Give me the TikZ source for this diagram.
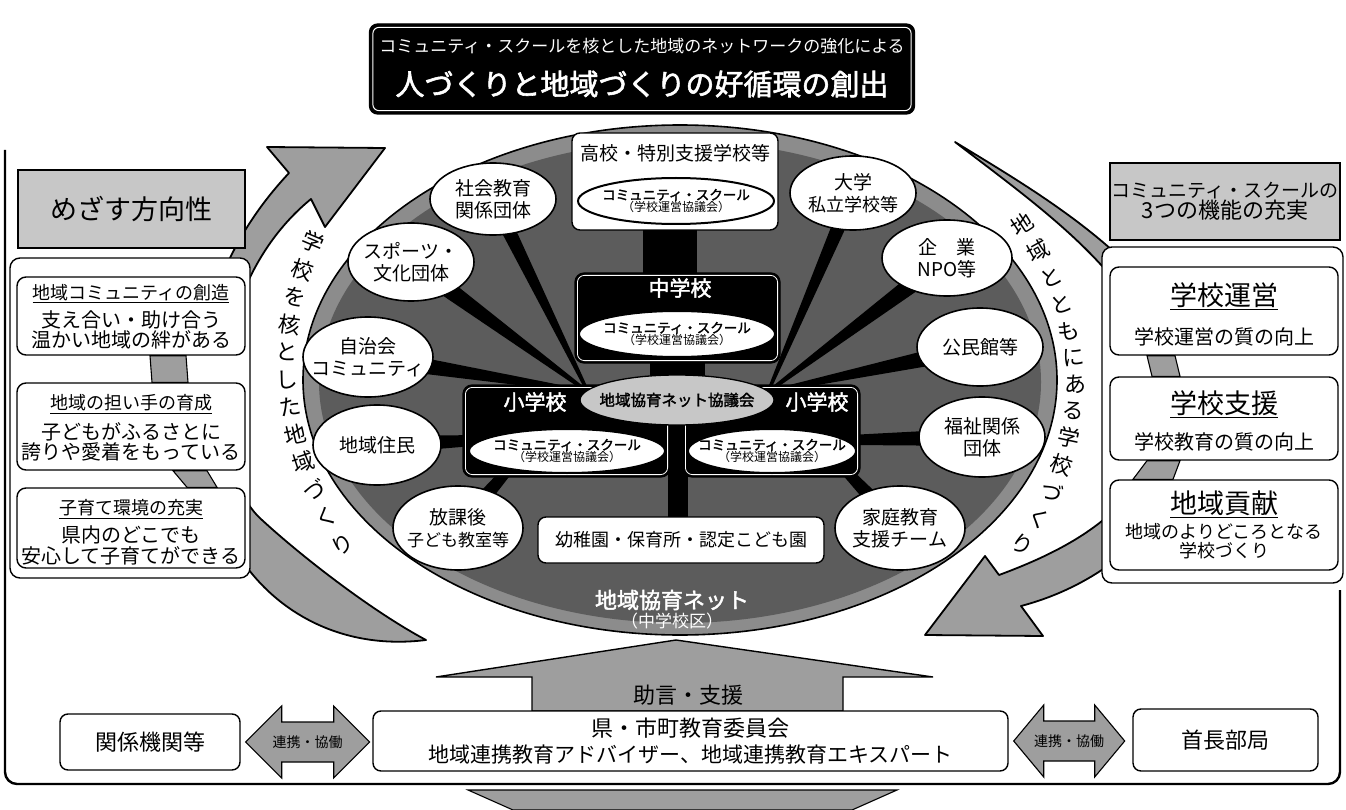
\documentclass[tikz,border=0pt]{standalone}
\usepackage{fontspec}
\setmainfont{Noto Sans CJK JP}[AutoFakeBold=2]
\usetikzlibrary{shapes.geometric,calc}
\definecolor{stipA}{gray}{0.78}
\definecolor{stipB}{gray}{0.62}
\definecolor{ringC}{gray}{0.55}
\definecolor{coreC}{gray}{0.36}
\newcommand\fsz[2]{\fontsize{#1}{#2}\selectfont}
\newcommand\mkray[4]{\fill[black] ($(#1)!#3!90:(#2)$) -- ($(#2)!#4!-90:(#1)$) -- ($(#2)!#4!90:(#1)$) -- ($(#1)!#3!-90:(#2)$) -- cycle;}
\begin{document}
\begin{tikzpicture}[x=1pt,y=-1pt,
  sat/.style={ellipse, draw=black, line width=1.6pt, fill=white, inner sep=0pt},
  txt/.style={inner sep=0pt, align=center},
  sattxt/.style={inner sep=0pt, align=center, font=\fsz{19}{22}},
  csell/.style={ellipse, draw=black, line width=2pt, fill=white, inner sep=0pt},
  pbox/.style={rectangle, draw=black, line width=1.4pt, rounded corners=10pt, fill=white, inner sep=0pt},
  hdr/.style={rectangle, draw=black, line width=1.4pt, fill=stipA, inner sep=0pt, align=center},
  blk/.style={rectangle, draw=black, line width=1.2pt, rounded corners=9pt, fill=black, inner sep=0pt},
  bandfill/.style={fill=stipB, draw=black, line width=1.8pt, line join=round},
  conn/.style={fill=stipB, draw=black, line width=1.1pt},
  arctext/.style={inner sep=0pt, font=\fsz{22}{22}},
]
\fill[white] (0,0) rectangle (1346,810);
\useasboundingbox (0,0) rectangle (1346,810);

% outer frame
\draw[line width=2.4pt, rounded corners=12pt] (5,150) -- (5,784) -- (1340,784) -- (1340,590);

% title
\node[blk, rounded corners=8pt, minimum width=545pt, minimum height=90pt] (title) at (642,69) {};
\draw[white, line width=1pt, rounded corners=6pt] ($(title.north west)+(4,4)$) rectangle ($(title.south east)+(-4,-4)$);
\node[txt, white, font=\fsz{17}{17}] (title1) at (642,46) {コミュニティ・スクールを核とした地域のネットワークの強化による};
\node[txt, white, font=\bfseries\fsz{29}{29}] (title2) at (642,84) {人づくりと地域づくりの好循環の創出};

% main ellipse
\node[ellipse, draw=black, line width=1.6pt, fill=ringC, minimum width=754pt, minimum height=510pt, inner sep=0pt] (net) at (680,380) {};
\node[ellipse, fill=coreC, minimum width=722pt, minimum height=482pt, inner sep=0pt] (netcore) at (680,382) {};

% curved arrows
\filldraw[bandfill] (426,640) .. controls (330,652) and (260,600) .. (230,540) .. controls (190,450) and (170,300) .. (289,173) -- (267,147) -- (385,148) -- (325,227) -- (311,199) .. controls (200,290) and (205,470) .. (262,520) .. controls (300,555) and (370,610) .. (426,640) -- cycle;
\filldraw[bandfill] (955,142) .. controls (1050,200) and (1190,280) .. (1200,400) .. controls (1200,500) and (1120,580) .. (1021,606) -- (1043,636) -- (925,635) -- (985,556) -- (999,575) .. controls (1080,545) and (1160,500) .. (1165,400) .. controls (1160,290) and (1050,215) .. (955,142) -- cycle;

% left side
\node[hdr, minimum width=227pt, minimum height=78pt, font=\fsz{27}{27}] (lhead) at (131.5,209) {めざす方向性};
\node[pbox, minimum width=240pt, minimum height=320pt] (lpanel) at (130,418) {};
\node[pbox, rounded corners=9pt, minimum width=228pt, minimum height=78pt] (lb1) at (131,316) {};
\node[pbox, rounded corners=9pt, minimum width=228pt, minimum height=87pt] (lb2) at (131,426.5) {};
\node[pbox, rounded corners=9pt, minimum width=228pt, minimum height=80pt] (lb3) at (131,528) {};
\filldraw[conn] ($(lb1.south)+(19,0)$) -- ($(lb1.south)+(55,0)$) -- ($(lb2.north)+(57,0)$) -- ($(lb2.north)+(21,0)$) -- cycle;
\filldraw[conn] ($(lb2.south)+(42,0)$) -- ($(lb2.south)+(76,0)$) -- ($(lb3.north)+(86,0)$) -- ($(lb3.north)+(56,0)$) -- cycle;
\node[txt, font=\fsz{18}{18}] (lb1a) at (131,294) {\underline{地域コミュニティの創造}};
\node[txt, font=\fsz{20}{20}] (lb1b) at (131,330) {支え合い・助け合う\\温かい地域の絆がある};
\node[txt, font=\fsz{18}{18}] (lb2a) at (131,404) {\underline{地域の担い手の育成}};
\node[txt, font=\fsz{20}{20}] (lb2b) at (131,442) {子どもがふるさとに\\誇りや愛着をもっている};
\node[txt, font=\fsz{18}{18}] (lb3a) at (131,509) {\underline{子育て環境の充実}};
\node[txt, font=\fsz{20}{21}] (lb3b) at (131,545) {県内のどこでも\\安心して子育てができる};

% right side
\node[hdr, minimum width=230pt, minimum height=77pt] (rhead) at (1225,201.5) {{\fsz{19}{25}コミュニティ・スクールの}\\{\fsz{22}{26}3つの機能の充実}};
\node[pbox, minimum width=241pt, minimum height=336pt] (rpanel) at (1222.5,415) {};
\node[pbox, rounded corners=9pt, minimum width=228pt, minimum height=88pt] (rb1) at (1224,311) {};
\node[pbox, rounded corners=9pt, minimum width=228pt, minimum height=83pt] (rb2) at (1224,418.5) {};
\node[pbox, rounded corners=9pt, minimum width=228pt, minimum height=90pt] (rb3) at (1224,525) {};
\filldraw[conn] ($(rb1.south)+(-77,0)$) -- ($(rb1.south)+(-49,0)$) -- ($(rb2.north)+(-44,0)$) -- ($(rb2.north)+(-72,0)$) -- cycle;
\filldraw[conn] ($(rb2.south)+(-77,0)$) -- ($(rb2.south)+(-44,0)$) -- ($(rb3.north)+(-51,0)$) -- ($(rb3.north)+(-91,0)$) -- cycle;
\node[txt, font=\fsz{27}{27}] (rb1a) at (1224,296) {\underline{学校運営}};
\node[txt, font=\fsz{20}{20}] (rb1b) at (1224,337) {学校運営の質の向上};
\node[txt, font=\fsz{27}{27}] (rb2a) at (1224,404) {\underline{学校支援}};
\node[txt, font=\fsz{20}{20}] (rb2b) at (1224,442) {学校教育の質の向上};
\node[txt, font=\fsz{27}{27}] (rb3a) at (1224,504) {\underline{地域貢献}};
\node[txt, font=\fsz{18}{19}] (rb3b) at (1224,541) {地域のよりどころとなる\\学校づくり};

% bars
\fill[black] (643,226) rectangle (697,277);
\fill[black] (650,360) rectangle (705,380);
\fill[black] (668,420) rectangle (688,520);

% rays
\coordinate (hubL) at (588,392);
\coordinate (hubR) at (768,392);
\coordinate (hubJ) at (485,440);
\coordinate (hubH) at (508,470);
\coordinate (hubF) at (850,440);
\coordinate (hubK) at (845,470);
\coordinate (c-shakai) at (493,199);
\coordinate (c-sports) at (411,262);
\coordinate (c-jichi) at (368,357);
\coordinate (c-jumin) at (377,445);
\coordinate (c-hokago) at (458,528);
\coordinate (c-daigaku) at (853,193);
\coordinate (c-kigyo) at (947,258);
\coordinate (c-kominkan) at (980,347);
\coordinate (c-fukushi) at (982,437);
\coordinate (c-katei) at (900,528);
\mkray{c-shakai}{hubL}{8pt}{1.5pt}
\mkray{c-sports}{hubL}{10pt}{1.5pt}
\mkray{c-jichi}{hubL}{10pt}{1.5pt}
\mkray{c-daigaku}{hubR}{8pt}{1.5pt}
\mkray{c-kigyo}{hubR}{10pt}{1.5pt}
\mkray{c-kominkan}{hubR}{10pt}{1.5pt}
\mkray{c-jumin}{hubJ}{9pt}{5pt}
\mkray{c-hokago}{hubH}{9pt}{5pt}
\mkray{c-fukushi}{hubF}{9pt}{5pt}
\mkray{c-katei}{hubK}{9pt}{5pt}

% high school box
\node[pbox, rounded corners=8pt, minimum width=206pt, minimum height=97pt] (koko) at (675,181.5) {};
\node[txt, font=\fsz{19}{19}] (kokot) at (675,153) {高校・特別支援学校等};
\node[csell, minimum width=196pt, minimum height=46pt] (kokocs) at (676,201) {};
\node[txt] (kokocst) at (kokocs) {{\bfseries\fsz{13.5}{17}コミュニティ・スクール}\\{\fsz{12}{14}（学校運営協議会）}};

% junior high box
\node[blk, minimum width=205pt, minimum height=90pt] (chu) at (677.5,318) {};
\draw[white, line width=0.8pt, rounded corners=7pt] ($(chu.north west)+(3,3)$) rectangle ($(chu.south east)+(-3,-3)$);
\node[txt, white, font=\bfseries\fsz{21}{21}] (chut) at (680,288) {中学校};
\node[csell, minimum width=196pt, minimum height=46pt] (chucs) at (677,334) {};
\node[txt] (chucst) at (chucs) {{\bfseries\fsz{13.5}{17}コミュニティ・スクール}\\{\fsz{12}{14}（学校運営協議会）}};

% elementary boxes
\node[blk, minimum width=207pt, minimum height=92pt] (shoL) at (566.5,431) {};
\draw[white, line width=0.8pt, rounded corners=7pt] ($(shoL.north west)+(3,3)$) rectangle ($(shoL.south east)+(-3,-3)$);
\node[txt, white, font=\bfseries\fsz{21}{21}] (shoLt) at (535,402) {小学校};
\node[csell, minimum width=196pt, minimum height=44pt] (shoLcs) at (567,451) {};
\node[txt] (shoLcst) at (shoLcs) {{\bfseries\fsz{13.5}{17}コミュニティ・スクール}\\{\fsz{12}{14}（学校運営協議会）}};
\node[blk, minimum width=177pt, minimum height=92pt] (shoR) at (771.5,431) {};
\draw[white, line width=0.8pt, rounded corners=7pt] ($(shoR.north west)+(3,3)$) rectangle ($(shoR.south east)+(-3,-3)$);
\node[txt, white, font=\bfseries\fsz{21}{21}] (shoRt) at (817,402) {小学校};
\node[csell, minimum width=168pt, minimum height=44pt] (shoRcs) at (772,451) {};
\node[txt] (shoRcst) at (shoRcs) {{\bfseries\fsz{13.5}{17}コミュニティ・スクール}\\{\fsz{12}{14}（学校運営協議会）}};

% council ellipse
\node[ellipse, draw=black, line width=1.3pt, fill=stipA, minimum width=194pt, minimum height=50pt, inner sep=0pt] (kyogi) at (677,400) {};
\node[txt, font=\bfseries\fsz{15.5}{16}] (kyogit) at (kyogi) {地域協育ネット協議会};

% kindergarten box
\node[pbox, rounded corners=8pt, minimum width=286pt, minimum height=46pt] (yochi) at (681,540) {};
\node[txt, font=\fsz{18}{18}] (yochit) at (yochi) {幼稚園・保育所・認定こども園};

% network label
\node[txt, white, font=\bfseries\fsz{22}{22}] (netl1) at (672,600) {地域協育ネット};
\node[txt, white, font=\fsz{17}{17}] (netl2) at (672,621) {（中学校区）};

% satellites
\node[sat, minimum width=126pt, minimum height=72pt] (shakai) at (c-shakai) {};
\node[sattxt] (shakait) at (shakai) {社会教育\\関係団体};
\node[sat, minimum width=126pt, minimum height=78pt] (sports) at (c-sports) {};
\node[sattxt] (sportst) at (sports) {スポーツ・\\文化団体};
\node[sat, minimum width=130pt, minimum height=80pt] (jichi) at (c-jichi) {};
\node[sattxt] (jichit) at (jichi) {自治会\\コミュニティ};
\node[sat, minimum width=128pt, minimum height=80pt] (jumin) at (c-jumin) {};
\node[sattxt] (jumint) at (jumin) {地域住民};
\node[sat, minimum width=130pt, minimum height=84pt] (hokago) at (c-hokago) {};
\node[sattxt] (hokagot) at (hokago) {放課後\\{\fsz{17}{22}子ども教室等}};
\node[sat, minimum width=126pt, minimum height=74pt] (daigaku) at (c-daigaku) {};
\node[sattxt] (daigakut) at (daigaku) {大学\\{\fsz{18}{22}私立学校等}};
\node[sat, minimum width=130pt, minimum height=76pt] (kigyo) at (c-kigyo) {};
\node[sattxt] (kigyot) at (kigyo) {企　業\\NPO等};
\node[sat, minimum width=126pt, minimum height=78pt] (kominkan) at (c-kominkan) {};
\node[sattxt] (kominkant) at (kominkan) {公民館等};
\node[sat, minimum width=126pt, minimum height=80pt] (fukushi) at (c-fukushi) {};
\node[sattxt] (fukushit) at (fukushi) {福祉関係\\団体};
\node[sat, minimum width=130pt, minimum height=84pt] (katei) at (c-katei) {};
\node[sattxt] (kateit) at (katei) {家庭教育\\支援チーム};

% arc texts
\foreach \ch/\px/\py/\rt [count=\i] in {学/313/242/-23, 校/302.7/269.5/-18, を/295/297/-13, 核/289.8/324.5/-8, と/287.3/352/-3, し/287.4/379.5/3, た/290/407/8, 地/295.3/434.5/13, 域/303.2/462/18, づ/313.7/489.5/23, く/326.7/517/28, り/342.4/544.5/32}
  \node[arctext, rotate=\rt] (arcL\i) at (\px,\py) {\ch};
\foreach \ch/\px/\py/\rt [count=\i] in {地/1022/224/33, 域/1038.1/250.75/29, と/1051.4/277.5/24, と/1061.7/304.25/18, も/1069/331/12, に/1073.5/357.75/6, あ/1075/384.5/0, る/1073.6/411.25/-6, 学/1069.3/438/-12, 校/1062/464.75/-18, づ/1051.8/491.5/-23, く/1038.7/518.25/-29, り/1022.6/545/-33}
  \node[arctext, rotate=\rt] (arcR\i) at (\px,\py) {\ch};

% bottom area
\filldraw[conn, line width=1.4pt] (676,640) -- (933,677) -- (843,677) -- (843,711) -- (532,711) -- (532,677) -- (436,677) -- cycle;
\node[txt, font=\fsz{22}{22}] (jogen) at (688,695) {助言・支援};
\node[pbox, rounded corners=8pt, minimum width=635pt, minimum height=60pt] (ken) at (690.5,741) {};
\node[txt, font=\fsz{22}{22}] (ken1) at (690.5,728) {県・市町教育委員会};
\node[txt, font=\fsz{21}{21}] (ken2) at (690.5,755) {地域連携教育アドバイザー、地域連携教育エキスパート};
\node[pbox, rounded corners=8pt, minimum width=180pt, minimum height=56pt, font=\fsz{22}{22}] (kankei) at (150,742) {関係機関等};
\node[pbox, rounded corners=8pt, minimum width=185pt, minimum height=62pt, font=\fsz{22}{22}] (shucho) at (1225.5,740) {首長部局};
\filldraw[conn] ($(kankei.east)+(5,0)$) -- ++(36,-36) -- ++(0,16) -- ++(52,0) -- ++(0,-16) -- ++(36,36) -- ++(-36,36) -- ++(0,-16) -- ++(-52,0) -- ++(0,16) -- cycle;
\node[txt, font=\fsz{14}{14}] (renL) at ($(kankei.east)+(67,0)$) {連携・協働};
\filldraw[conn] ($(ken.east)+(5,0)$) -- ++(30,-36) -- ++(0,16) -- ++(51,0) -- ++(0,-16) -- ++(30,36) -- ++(-30,36) -- ++(0,-16) -- ++(-51,0) -- ++(0,16) -- cycle;
\node[txt, font=\fsz{14}{14}] (renR) at ($(ken.east)+(60.5,0)$) {連携・協働};
\filldraw[conn] (468,790) -- (897,790) -- (852,810) -- (513,810) -- cycle;
\end{tikzpicture}
\end{document}
